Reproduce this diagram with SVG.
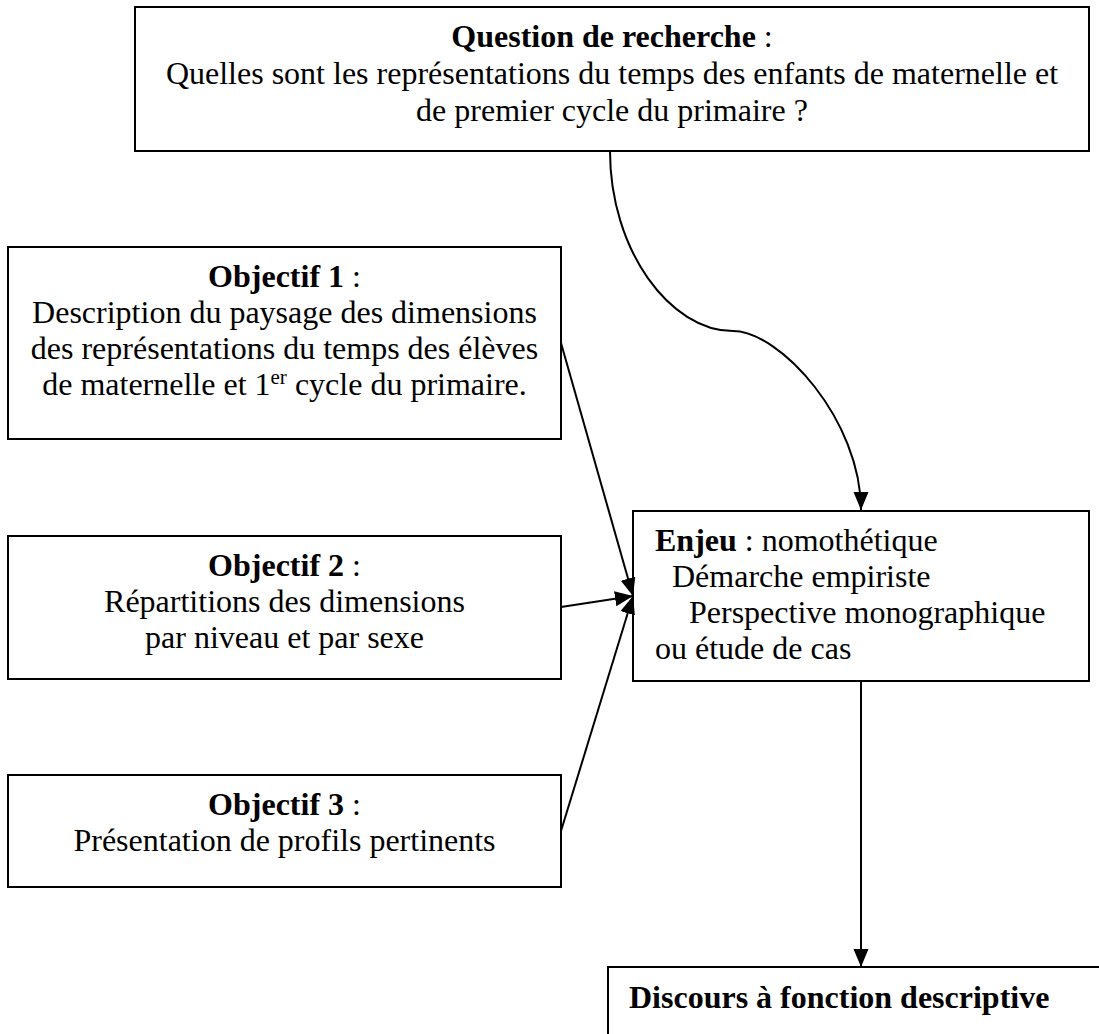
<svg xmlns="http://www.w3.org/2000/svg" width="1099" height="1034" viewBox="0 0 1099 1034">
<style>
  .box { fill: #ffffff; stroke: #000000; stroke-width: 2; }
  .t { font-family: "Liberation Serif", "Times New Roman", serif; font-size: 32px; fill: #000000; }
  .c { text-anchor: middle; }
  .b { font-weight: bold; }
  .conn { fill: none; stroke: #000000; stroke-width: 2; }
</style>
<defs>
  <marker id="ah" markerUnits="userSpaceOnUse" markerWidth="19" markerHeight="16" refX="18" refY="7.5" orient="auto">
    <path d="M0,0 L18,7.5 L0,15 z" fill="#000000"/>
  </marker>
</defs>
<rect width="1099" height="1034" fill="#ffffff"/>

<g id="question">
  <rect class="box" x="135" y="7" width="954" height="144"/>
  <text class="t c" x="612" y="47"><tspan class="b">Question de recherche</tspan> :</text>
  <text class="t c" x="612" y="84">Quelles sont les représentations du temps des enfants de maternelle et</text>
  <text class="t c" x="612" y="121">de premier cycle du primaire ?</text>
</g>

<g id="objectif1">
  <rect class="box" x="8" y="247" width="553" height="192"/>
  <text class="t c" x="284.5" y="287"><tspan class="b">Objectif 1</tspan> :</text>
  <text class="t c" x="284.5" y="323">Description du paysage des dimensions</text>
  <text class="t c" x="284.5" y="359">des représentations du temps des élèves</text>
  <text class="t c" x="284.5" y="395">de maternelle et 1<tspan font-size="21" dy="-11">er</tspan><tspan dy="11"> cycle du primaire.</tspan></text>
</g>

<g id="objectif2">
  <rect class="box" x="8" y="536" width="553" height="143"/>
  <text class="t c" x="284.5" y="576"><tspan class="b">Objectif 2</tspan> :</text>
  <text class="t c" x="284.5" y="612">Répartitions des dimensions</text>
  <text class="t c" x="284.5" y="648">par niveau et par sexe</text>
</g>

<g id="objectif3">
  <rect class="box" x="8" y="775" width="553" height="112"/>
  <text class="t c" x="284.5" y="815"><tspan class="b">Objectif 3</tspan> :</text>
  <text class="t c" x="284.5" y="851">Présentation de profils pertinents</text>
</g>

<g id="enjeu">
  <rect class="box" x="633" y="511" width="456" height="170"/>
  <text class="t" x="655" y="551"><tspan class="b">Enjeu</tspan> : nomothétique</text>
  <text class="t" x="672" y="587">Démarche empiriste</text>
  <text class="t" x="689" y="623">Perspective monographique</text>
  <text class="t" x="655" y="659">ou étude de cas</text>
</g>

<g id="discours">
  <rect class="box" x="608" y="967" width="500" height="80"/>
  <text class="t b" x="629" y="1008">Discours à fonction descriptive</text>
</g>

<g id="connectors">
  <path class="conn" d="M610,151 C610,250 670,331 733,331 C780,331 861,420 861,510" marker-end="url(#ah)"/>
  <line class="conn" x1="561" y1="343" x2="633" y2="596" marker-end="url(#ah)"/>
  <line class="conn" x1="561" y1="607" x2="633" y2="596" marker-end="url(#ah)"/>
  <line class="conn" x1="561" y1="831" x2="633" y2="596" marker-end="url(#ah)"/>
  <line class="conn" x1="861" y1="681" x2="861" y2="967" marker-end="url(#ah)"/>
</g>
</svg>
